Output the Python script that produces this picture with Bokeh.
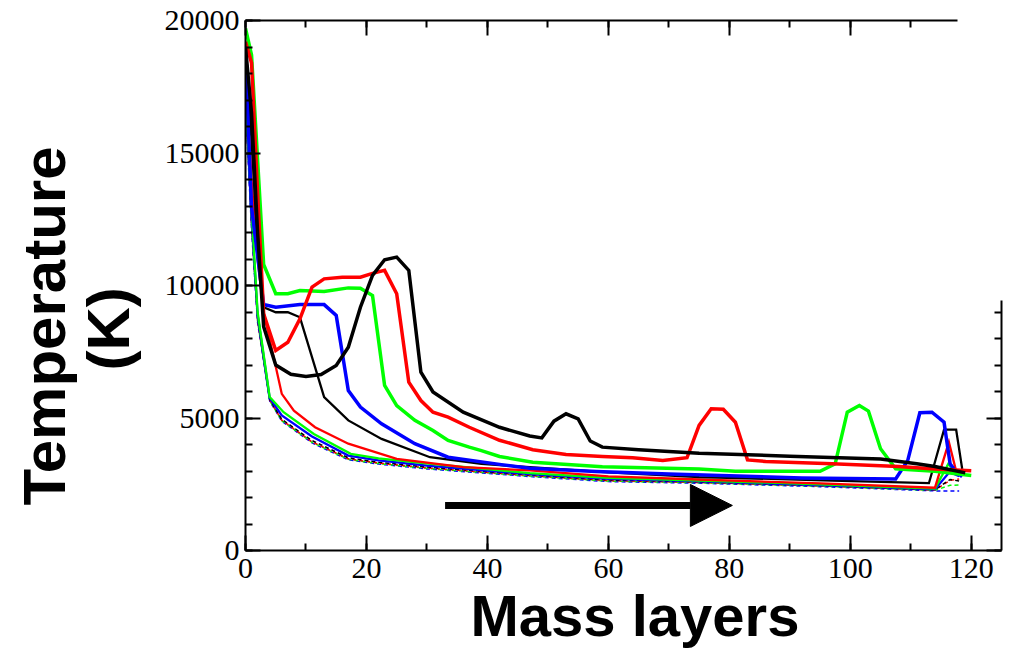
from bokeh.plotting import figure
from bokeh.models import (Range1d, LinearAxis, SingleIntervalTicker, Title,
                          Arrow, NormalHead)
from bokeh.embed import file_html
from bokeh.resources import INLINE

# ---------------- data ----------------
# Group A: thick lines
a_black_x = [0, 1, 2, 3, 5, 7.5, 10, 12.5, 15, 17, 19, 21, 23, 25, 27, 29, 31, 36, 42, 47, 49, 51, 53, 55, 57, 59, 65, 75, 90, 105, 111, 114, 119]
a_black_t = [19000, 16500, 12000, 8450, 7000, 6650, 6570, 6640, 6980, 7670, 9180, 10380, 10970, 11070, 10570, 6730, 5980, 5220, 4650, 4320, 4250, 4880, 5160, 4970, 4130, 3900, 3800, 3670, 3560, 3450, 3270, 3170, 2930]

a_red_x = [0, 1, 2, 3, 5, 7, 9, 11, 13, 16, 19, 21, 23, 25, 27, 29, 31, 33.5, 37, 42, 47.5, 53, 59, 64, 69, 73, 75, 77, 79, 81, 83, 86, 97, 108, 114, 120]
a_red_t = [19200, 18400, 13500, 8930, 7550, 7860, 8740, 9940, 10250, 10310, 10310, 10460, 10570, 9690, 6350, 5660, 5220, 5030, 4650, 4160, 3800, 3620, 3550, 3500, 3400, 3500, 4720, 5350, 5330, 4840, 3420, 3360, 3270, 3170, 3080, 3010]

a_green_x = [0, 1, 3, 5, 7, 9, 13, 17, 19, 21, 23, 25, 28, 31, 33.5, 37, 39, 42, 47.5, 59, 75, 81, 95, 97.5, 99.5, 101.5, 103, 105, 107.5, 114, 120]
a_green_t = [19700, 18700, 10800, 9690, 9690, 9810, 9770, 9910, 9900, 9620, 6230, 5470, 4910, 4530, 4150, 3900, 3770, 3550, 3330, 3160, 3080, 2990, 2990, 3270, 5220, 5470, 5260, 3840, 3080, 2990, 2830]

a_blue_x = [0, 1, 3, 5, 9, 13, 15, 17, 19, 22.5, 28, 33.5, 42, 47, 58, 70, 92, 107.5, 109.5, 111.5, 113.5, 115.5, 116.5, 117.5, 118.5]
a_blue_t = [18600, 12950, 9280, 9180, 9280, 9280, 8870, 6040, 5410, 4780, 4030, 3520, 3250, 3100, 2980, 2890, 2740, 2700, 3400, 5200, 5220, 4840, 3270, 2960, 2790]

# Group B: medium lines
b_black_x = [0, 1, 2, 3, 5, 7, 9, 13, 17, 22.5, 30.5, 39, 47, 60, 75, 97, 113, 115.5, 117.5, 118.5]
b_black_t = [18800, 15500, 11500, 9180, 8990, 8990, 8800, 5790, 4910, 4210, 3520, 3270, 3150, 2950, 2770, 2640, 2540, 4560, 4560, 3080]

b_red_x = [0, 1, 2, 3, 6, 8, 11.5, 17, 25, 36, 47, 60, 75, 95, 114, 116.3, 117.5]
b_red_t = [18300, 14000, 11000, 9000, 5910, 5280, 4650, 4030, 3460, 3150, 3020, 2800, 2680, 2530, 2370, 4090, 3000]

b_green_x = [0, 1, 2, 4, 6.3, 11.3, 17.4, 22, 30.6, 47, 60, 75, 95, 114, 116.2, 117.5]
b_green_t = [17500, 12800, 9000, 5790, 5220, 4400, 3650, 3480, 3270, 2920, 2740, 2640, 2500, 2340, 3270, 2880]

b_blue_x = [0, 1, 2, 4, 6, 11, 17, 22, 30, 47, 60, 75, 95, 114, 116.4, 118]
b_blue_t = [17300, 12600, 8900, 5750, 5100, 4300, 3580, 3400, 3200, 2880, 2700, 2610, 2470, 2310, 2960, 2800]

# Group C: dashed lines
c_x = [0, 1, 2, 4, 6, 11, 17, 22, 30, 47, 60, 75, 95, 114, 116.5, 118]
c_black_t = [17100, 12400, 8800, 5700, 4950, 4150, 3500, 3330, 3150, 2850, 2660, 2590, 2450, 2290, 2680, 2620]
c_red_t = [17000, 12300, 8700, 5680, 4920, 4100, 3460, 3300, 3120, 2830, 2640, 2570, 2440, 2280, 2650, 2700]
c_green_t = [16900, 12200, 8650, 5660, 4900, 4080, 3440, 3280, 3100, 2810, 2620, 2560, 2430, 2270, 2460, 2470]
c_blue_t = [16800, 12100, 8600, 5640, 4880, 4060, 3420, 3260, 3080, 2790, 2600, 2540, 2410, 2250, 2250, 2250]

x_ticks_major = 20
y_ticks_major = 5000

# ---------------- figure ----------------
p = figure(width=1010, height=660,
           x_range=Range1d(0, 125), y_range=Range1d(0, 20000),
           output_backend="svg", toolbar_location=None,
           min_border_left=245, min_border_right=9,
           min_border_top=20, min_border_bottom=110,
           x_axis_type=None, y_axis_type=None)
p.outline_line_color = None
p.background_fill_color = "white"
p.border_fill_color = "white"

def style_axis(ax, labels=True, standoff=6):
    ax.axis_line_color = "black"
    ax.axis_line_width = 2
    ax.major_tick_line_color = "black"
    ax.major_tick_line_width = 2
    ax.minor_tick_line_color = "black"
    ax.minor_tick_line_width = 2
    ax.major_tick_in = 15
    ax.major_tick_out = 0
    ax.minor_tick_in = 7
    ax.minor_tick_out = 0
    if labels:
        ax.major_label_text_font = "Liberation Serif"
        ax.major_label_text_font_size = "30px"
        ax.major_label_text_color = "black"
        ax.major_label_standoff = standoff
    else:
        ax.major_label_text_font_size = "0px"
        ax.major_label_standoff = 0
        ax.major_label_text_color = None

xb = LinearAxis(ticker=SingleIntervalTicker(interval=x_ticks_major, num_minor_ticks=2))
style_axis(xb, standoff=8)
p.add_layout(xb, "below")
yl = LinearAxis(ticker=SingleIntervalTicker(interval=y_ticks_major, num_minor_ticks=5))
style_axis(yl)
p.add_layout(yl, "left")
xt = LinearAxis(ticker=SingleIntervalTicker(interval=x_ticks_major, num_minor_ticks=2), bounds=(0, 117.7))
style_axis(xt, labels=False)
p.add_layout(xt, "above")
yr = LinearAxis(ticker=SingleIntervalTicker(interval=y_ticks_major, num_minor_ticks=5), bounds=(0, 9430))
style_axis(yr, labels=False)
p.add_layout(yr, "right")

# axis titles
def add_title(text, side, offset, size, standoff):
    p.add_layout(Title(text=text, align="left", offset=offset, standoff=standoff,
                       text_font="Liberation Sans", text_font_style="bold",
                       text_font_size=size, text_color="black"), side)

add_title("(K)", "left", 180, "60px", 40)
add_title("Temperature", "left", 45, "60px", -50)
add_title("Mass layers", "below", 225, "58px", 1)

# series
series = [
    (c_x, c_blue_t, "#0000ff", 1.5, "4 3"),
    (c_x, c_green_t, "#00ff00", 1.5, "4 3"),
    (c_x, c_red_t, "#ff0000", 1.5, "4 3"),
    (c_x, c_black_t, "#000000", 1.5, "4 3"),
    (b_blue_x, b_blue_t, "#0000ff", 2.3, "solid"),
    (b_green_x, b_green_t, "#00ff00", 2.3, "solid"),
    (b_red_x, b_red_t, "#ff0000", 2.3, "solid"),
    (b_black_x, b_black_t, "#000000", 2.3, "solid"),
    (a_blue_x, a_blue_t, "#0000ff", 3.5, "solid"),
    (a_green_x, a_green_t, "#00ff00", 3.5, "solid"),
    (a_red_x, a_red_t, "#ff0000", 3.5, "solid"),
    (a_black_x, a_black_t, "#000000", 3.5, "solid"),
]
for xs, ts, col, w, dash in series:
    p.line(xs, ts, line_color=col, line_width=w, line_dash=dash, line_join="miter")

# arrow
arrow_x0, arrow_x1, arrow_y = 33.0, 80.5, 1700
p.add_layout(Arrow(x_start=arrow_x0, y_start=arrow_y, x_end=arrow_x1, y_end=arrow_y,
                   line_width=7, line_color="black",
                   end=NormalHead(size=42, fill_color="black", line_color="black")))

open("out.html", "w").write(file_html(p, INLINE))
